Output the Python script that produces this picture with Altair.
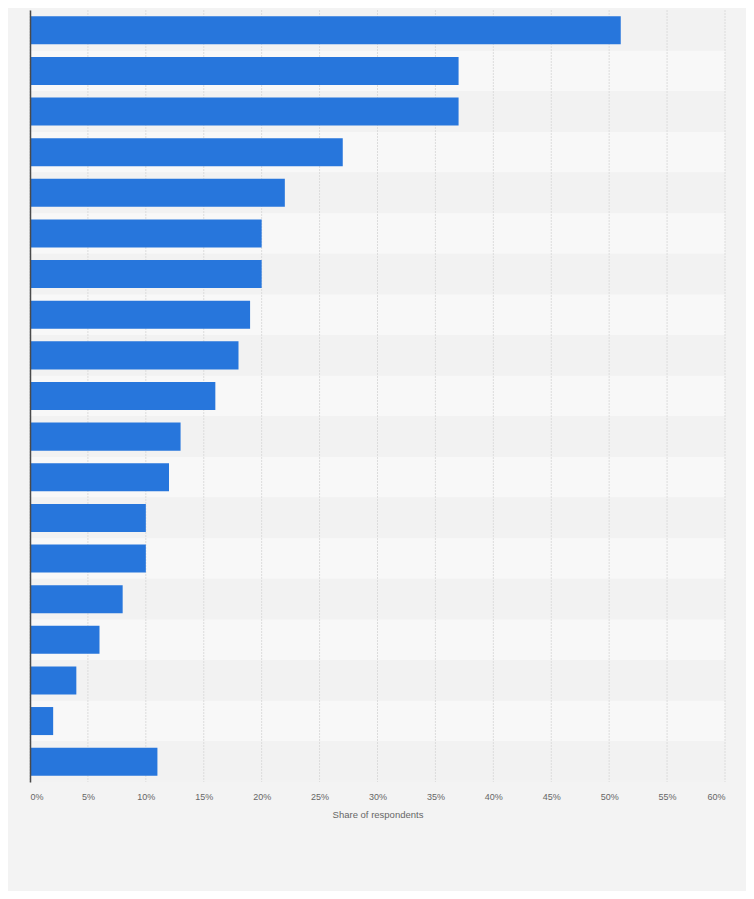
import altair as alt
import pandas as pd

categories = [f"Item {i}" for i in range(1, 20)]
shares = [51, 37, 37, 27, 22, 20, 20, 19, 18, 16, 13, 12, 10, 10, 8, 6, 4, 2, 11]
tick_values = [0, 5, 10, 15, 20, 25, 30, 35, 40, 45, 50, 55, 60]

df = pd.DataFrame({"category": categories, "share": shares})
df["row"] = range(len(df))
df["band"] = ["dark" if i % 2 == 0 else "light" for i in df["row"]]
ticks_df = pd.DataFrame({"t": tick_values})

W, H = 695, 772

yscale = alt.Scale(domain=categories, paddingInner=0, paddingOuter=0)
xscale = alt.Scale(domain=[0, 60], nice=False)

bands = alt.Chart(df).mark_rect().encode(
    y=alt.Y("category:N", scale=yscale, sort=categories,
            axis=alt.Axis(labels=False, ticks=False, title=None, domain=True,
                          domainColor="#4a4a4a", domainWidth=1.5, grid=False)),
    x=alt.value(0),
    x2=alt.value(W),
    color=alt.Color("band:N", scale=alt.Scale(domain=["dark", "light"],
                                              range=["#f2f2f2", "#f8f8f8"]),
                    legend=None),
)

grid = alt.Chart(ticks_df).mark_rule(color="#dcdcdc", strokeDash=[2, 1], strokeWidth=1).encode(
    x=alt.X("t:Q", scale=xscale),
    y=alt.value(0),
    y2=alt.value(H),
)

bars = alt.Chart(df).mark_bar(color="#2776dc", height={"band": 0.69}).encode(
    y=alt.Y("category:N", scale=yscale, sort=categories),
    x=alt.X("share:Q", scale=xscale,
            axis=alt.Axis(values=tick_values, labelExpr="datum.value + '%'",
                          title="Share of respondents", grid=False, domain=False,
                          ticks=False, labelFlush=True, labelPadding=10,
                          labelColor="#666666", labelFontSize=9,
                          titleColor="#666666", titleFontSize=9.5,
                          titleFontWeight="normal", titlePadding=8,
                          labelFont="Liberation Sans", titleFont="Liberation Sans")),
)

chart = alt.layer(bands, grid, bars).properties(
    width=W, height=H,
    autosize=alt.AutoSizeParams(type="none"),
    padding={"left": 22, "top": 2, "right": 21, "bottom": 109},
    background="#f3f3f3",
).configure_view(stroke=None)

chart.save("out.html", embed_options={"renderer": "svg", "actions": False})
